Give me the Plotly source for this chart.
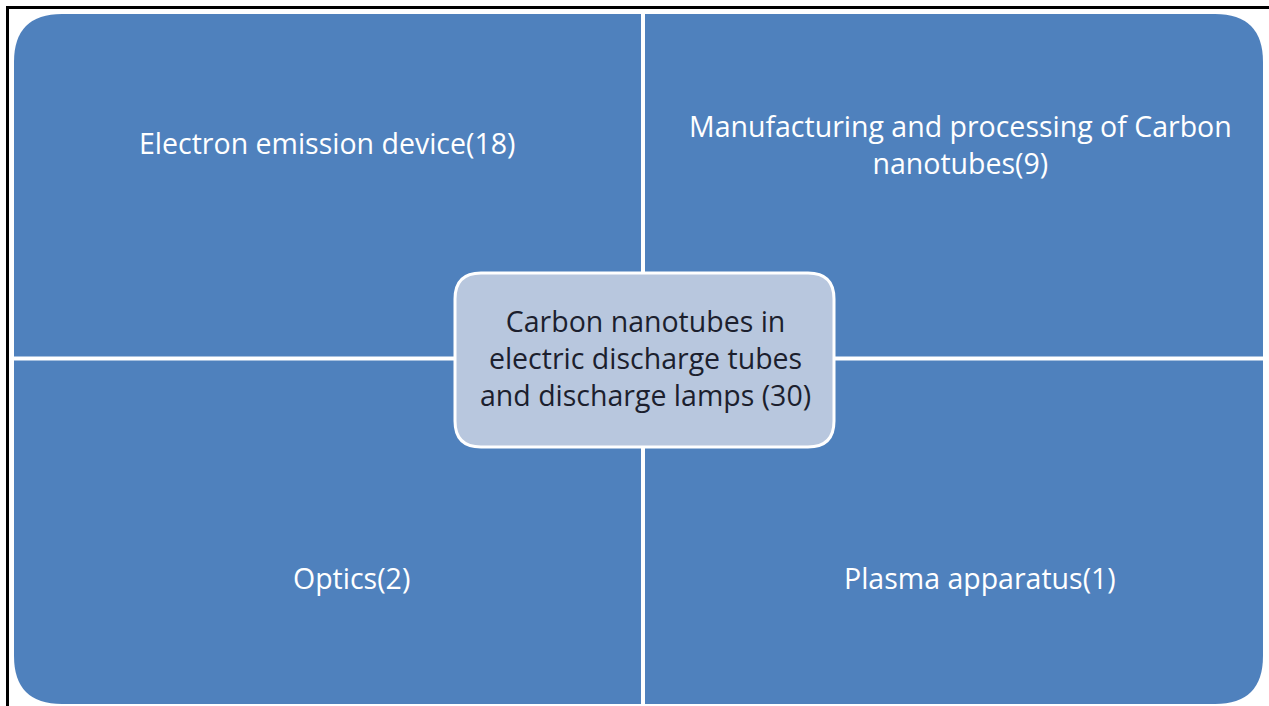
import plotly.graph_objects as go

# Data
center_lines = ["Carbon nanotubes in", "electric discharge tubes", "and discharge lamps (30)"]
categories = ["Electron emission device", "Manufacturing and processing of Carbon<br>nanotubes", "Optics", "Plasma apparatus"]
counts = [18, 9, 2, 1]

W, H = 1269, 706
BLUE = "#4f81bd"
CENTER_FILL = "#b8c7de"


def rounded_rect(x0, y0, x1, y1, r):
    return (f"M {x0+r},{y0} L {x1-r},{y0} Q {x1},{y0} {x1},{y0+r} "
            f"L {x1},{y1-r} Q {x1},{y1} {x1-r},{y1} L {x0+r},{y1} "
            f"Q {x0},{y1} {x0},{y1-r} L {x0},{y0+r} Q {x0},{y0} {x0+r},{y0} Z")


fig = go.Figure()
fig.add_trace(go.Scatter(x=[0, W], y=[0, H], mode="markers", marker=dict(opacity=0), hoverinfo="skip", showlegend=False))

shapes = []
shapes.append(dict(type="path", path=rounded_rect(14, 14, 1263, 704, 48), fillcolor=BLUE, line=dict(width=0), layer="below"))
shapes.append(dict(type="line", x0=643, y0=10, x1=643, y1=706, line=dict(color="white", width=4)))
shapes.append(dict(type="line", x0=10, y0=358.5, x1=1265, y1=358.5, line=dict(color="white", width=4)))
shapes.append(dict(type="path", path=rounded_rect(455, 273, 834, 447, 26), fillcolor=CENTER_FILL, line=dict(color="white", width=3)))
# frame lines (top and left)
shapes.append(dict(type="line", x0=6, y0=7.5, x1=W, y1=7.5, line=dict(color="black", width=3)))
shapes.append(dict(type="line", x0=7.5, y0=6, x1=7.5, y1=H, line=dict(color="black", width=3)))
fig.update_layout(shapes=shapes)

FONT = "Open Sans"
SIZE = 28.5
pos = [(327, 143), (960, 144), (351, 578), (980, 578)]
for (x, y), cat, n in zip(pos, categories, counts):
    fig.add_annotation(x=x, y=y, text=f"{cat}({n})", showarrow=False, align="center",
                       font=dict(family=FONT, size=SIZE, color="white"))

fig.add_annotation(x=645, y=358, text="<br>".join(center_lines), showarrow=False, align="center",
                   font=dict(family=FONT, size=SIZE, color="#1c1f2e"))

fig.update_xaxes(range=[0, W], visible=False, fixedrange=True)
fig.update_yaxes(range=[H, 0], visible=False, fixedrange=True)
fig.update_layout(width=W, height=H, margin=dict(l=0, r=0, t=0, b=0),
                  plot_bgcolor="white", paper_bgcolor="white")

fig.write_html("out.html", config={"displayModeBar": False},
               post_script="document.body.style.margin='0';document.body.style.overflow='hidden';")
